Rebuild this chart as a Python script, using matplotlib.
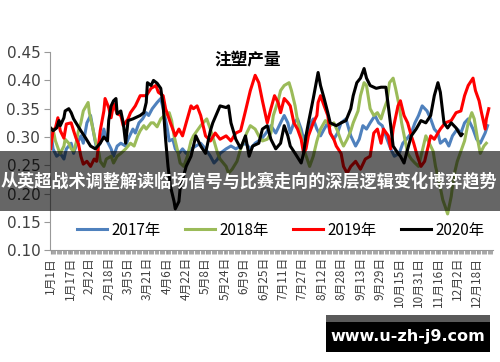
import matplotlib
matplotlib.use("Agg")
import matplotlib.pyplot as plt
from matplotlib.patches import Rectangle
import numpy as np

plt.rcParams['font.family'] = ['Noto Sans CJK SC', 'DejaVu Sans']

title = "注塑产量"
banner = "从英超战术调整解读临场信号与比赛走向的深层逻辑变化博弈趋势"
watermark = "www.u-zh-j9.com"

tick_days = list(range(0, 353, 16))
tick_labels = ["1月1日", "1月17日", "2月2日", "2月18日", "3月5日", "3月21日", "4月6日",
               "4月22日", "5月8日", "5月24日", "6月9日", "6月25日", "7月11日", "7月27日",
               "8月12日", "8月28日", "9月13日", "9月29日", "10月15日", "10月31日",
               "11月16日", "12月2日", "12月18日"]
y_ticks = [0.10, 0.15, 0.20, 0.25, 0.30, 0.35, 0.40, 0.45]

series_names = ["2017年", "2018年", "2019年", "2020年"]

day_2017 = [0, 2, 5, 8, 11, 13, 17, 19, 21, 25, 27, 30, 33, 36, 38, 41, 44, 46, 50, 52, 55, 58,
            62, 64, 68, 70, 73, 76, 79, 81, 84, 88, 91, 93, 96, 98, 101, 103, 106, 109, 112,
            116, 120, 124, 128, 132, 135, 138, 140, 145, 149, 153, 157, 161, 165, 169, 174,
            178, 182, 186, 190, 193, 196, 198, 201, 204, 207, 209, 212, 215, 217, 220, 223,
            226, 229, 231, 234, 237, 240, 244, 248, 252, 255, 258, 261, 264, 268, 271, 274,
            278, 281, 284, 288, 291, 294, 298, 301, 304, 307, 311, 314, 317, 320, 322, 326,
            329, 332, 336, 339, 342, 345, 349, 352, 355, 359, 361]
val_2017 = [0.314, 0.279, 0.266, 0.271, 0.261, 0.279, 0.289, 0.271, 0.284, 0.302, 0.289, 0.325,
            0.338, 0.302, 0.279, 0.289, 0.314, 0.296, 0.279, 0.266, 0.284, 0.289, 0.284, 0.296,
            0.314, 0.307, 0.325, 0.332, 0.343, 0.338, 0.350, 0.361, 0.368, 0.350, 0.320, 0.293,
            0.296, 0.279, 0.271, 0.279, 0.271, 0.279, 0.284, 0.289, 0.279, 0.266, 0.254, 0.261,
            0.271, 0.279, 0.284, 0.279, 0.284, 0.289, 0.279, 0.289, 0.296, 0.307, 0.320, 0.307,
            0.325, 0.338, 0.325, 0.307, 0.325, 0.332, 0.314, 0.296, 0.307, 0.325, 0.332, 0.314,
            0.302, 0.314, 0.325, 0.307, 0.296, 0.307, 0.325, 0.332, 0.302, 0.284, 0.296, 0.320,
            0.314, 0.325, 0.338, 0.325, 0.320, 0.296, 0.279, 0.266, 0.271, 0.289, 0.296, 0.307,
            0.325, 0.338, 0.355, 0.346, 0.332, 0.314, 0.307, 0.289, 0.296, 0.284, 0.302, 0.314,
            0.307, 0.325, 0.332, 0.314, 0.296, 0.289, 0.307, 0.320]

day_2018 = [0, 2, 4, 7, 8, 11, 12, 15, 17, 19, 21, 23, 25, 27, 31, 32, 35, 37, 40, 41, 44, 46,
            50, 52, 55, 58, 62, 66, 69, 72, 74, 77, 79, 83, 85, 88, 91, 94, 98, 100, 102, 105,
            107, 110, 113, 116, 118, 121, 124, 126, 129, 132, 135, 138, 140, 145, 147, 150,
            154, 157, 160, 162, 165, 169, 172, 175, 179, 182, 184, 188, 190, 193, 197, 199,
            202, 204, 207, 209, 212, 214, 217, 220, 223, 227, 231, 234, 237, 240, 242, 245,
            248, 250, 254, 256, 259, 261, 264, 267, 270, 273, 275, 278, 280, 283, 285, 288,
            290, 293, 295, 298, 301, 304, 307, 310, 312, 316, 318, 321, 324, 326, 328, 331,
            333, 336, 339, 342, 345, 348, 350, 353, 355, 358, 360]
val_2018 = [0.311, 0.314, 0.293, 0.275, 0.271, 0.284, 0.296, 0.289, 0.279, 0.275, 0.289, 0.311,
            0.325, 0.346, 0.361, 0.343, 0.314, 0.293, 0.271, 0.257, 0.248, 0.261, 0.266, 0.254,
            0.266, 0.271, 0.279, 0.289, 0.284, 0.302, 0.311, 0.320, 0.314, 0.325, 0.325, 0.318,
            0.332, 0.338, 0.343, 0.329, 0.302, 0.275, 0.254, 0.248, 0.266, 0.293, 0.302, 0.311,
            0.320, 0.325, 0.332, 0.314, 0.293, 0.271, 0.261, 0.248, 0.236, 0.243, 0.257, 0.279,
            0.296, 0.307, 0.320, 0.314, 0.302, 0.293, 0.296, 0.307, 0.338, 0.364, 0.382, 0.391,
            0.396, 0.382, 0.355, 0.329, 0.302, 0.279, 0.261, 0.248, 0.266, 0.293, 0.314, 0.329,
            0.320, 0.325, 0.311, 0.293, 0.284, 0.296, 0.311, 0.325, 0.346, 0.373, 0.396, 0.391,
            0.350, 0.338, 0.343, 0.332, 0.346, 0.364, 0.396, 0.404, 0.386, 0.355, 0.325, 0.293,
            0.271, 0.261, 0.254, 0.248, 0.275, 0.302, 0.293, 0.275, 0.248, 0.221, 0.189, 0.177,
            0.164, 0.195, 0.230, 0.257, 0.275, 0.293, 0.325, 0.343, 0.332, 0.293, 0.271, 0.284,
            0.289]

day_2019 = [0, 2, 4, 6, 8, 11, 13, 17, 19, 21, 23, 25, 27, 30, 33, 36, 38, 40, 41, 44, 45, 48,
            50, 52, 55, 58, 60, 64, 66, 70, 74, 79, 83, 87, 89, 93, 95, 99, 103, 106, 109, 112,
            116, 118, 121, 124, 128, 132, 136, 140, 145, 149, 153, 157, 161, 165, 169, 172,
            175, 179, 182, 185, 188, 190, 193, 196, 198, 201, 204, 207, 209, 211, 213, 217,
            220, 221, 223, 226, 229, 231, 234, 236, 240, 242, 245, 248, 252, 256, 260, 264,
            267, 270, 273, 275, 279, 281, 283, 287, 289, 292, 295, 298, 300, 303, 306, 309,
            312, 314, 317, 320, 322, 326, 331, 335, 339, 342, 345, 349, 351, 354, 356, 359,
            360, 362]
val_2019 = [0.279, 0.311, 0.316, 0.334, 0.311, 0.298, 0.323, 0.325, 0.311, 0.298, 0.288, 0.266,
            0.252, 0.257, 0.248, 0.261, 0.257, 0.293, 0.311, 0.346, 0.368, 0.352, 0.334, 0.359,
            0.341, 0.338, 0.320, 0.332, 0.343, 0.355, 0.373, 0.373, 0.386, 0.391, 0.379, 0.373,
            0.350, 0.325, 0.302, 0.314, 0.302, 0.325, 0.355, 0.350, 0.355, 0.338, 0.302, 0.293,
            0.307, 0.296, 0.302, 0.293, 0.307, 0.311, 0.346, 0.382, 0.409, 0.396, 0.364, 0.325,
            0.350, 0.373, 0.361, 0.343, 0.368, 0.361, 0.355, 0.325, 0.314, 0.296, 0.271, 0.279,
            0.302, 0.325, 0.338, 0.361, 0.373, 0.355, 0.338, 0.307, 0.296, 0.284, 0.271, 0.248,
            0.236, 0.248, 0.257, 0.243, 0.261, 0.266, 0.307, 0.314, 0.289, 0.314, 0.302, 0.279,
            0.314, 0.355, 0.364, 0.338, 0.325, 0.302, 0.289, 0.266, 0.248, 0.257, 0.284, 0.302,
            0.296, 0.307, 0.314, 0.325, 0.329, 0.343, 0.346, 0.373, 0.391, 0.404, 0.382, 0.364,
            0.343, 0.314, 0.332, 0.350]

day_2020 = [0, 2, 5, 7, 8, 11, 12, 15, 17, 19, 21, 25, 29, 33, 37, 41, 44, 47, 48, 50, 52, 54,
            55, 58, 60, 62, 64, 68, 70, 74, 77, 79, 80, 83, 85, 88, 91, 93, 95, 97, 99, 102,
            103, 106, 107, 112, 116, 120, 124, 128, 132, 134, 139, 140, 145, 147, 149, 153,
            157, 161, 164, 167, 172, 175, 179, 182, 186, 190, 193, 196, 198, 202, 207, 209,
            211, 213, 217, 221, 223, 226, 229, 231, 236, 240, 244, 248, 250, 253, 256, 259,
            261, 264, 269, 273, 277, 279, 281, 283, 287, 289, 292, 294, 298, 302, 306, 310,
            314, 317, 320, 322, 325, 328, 331, 335, 339, 340]
val_2020 = [0.316, 0.311, 0.316, 0.329, 0.320, 0.334, 0.346, 0.350, 0.343, 0.332, 0.325, 0.311,
            0.298, 0.284, 0.279, 0.289, 0.300, 0.293, 0.329, 0.355, 0.364, 0.368, 0.341, 0.346,
            0.325, 0.289, 0.329, 0.332, 0.334, 0.338, 0.343, 0.361, 0.396, 0.391, 0.400, 0.395,
            0.386, 0.355, 0.296, 0.248, 0.213, 0.186, 0.173, 0.186, 0.209, 0.248, 0.266, 0.302,
            0.284, 0.271, 0.311, 0.325, 0.350, 0.355, 0.352, 0.355, 0.325, 0.296, 0.280, 0.302,
            0.266, 0.284, 0.289, 0.314, 0.320, 0.296, 0.279, 0.289, 0.320, 0.302, 0.284, 0.271,
            0.254, 0.271, 0.302, 0.325, 0.368, 0.414, 0.391, 0.368, 0.343, 0.325, 0.320, 0.325,
            0.329, 0.350, 0.373, 0.396, 0.404, 0.421, 0.404, 0.391, 0.386, 0.388, 0.388, 0.355,
            0.320, 0.284, 0.271, 0.266, 0.254, 0.271, 0.302, 0.314, 0.329, 0.325, 0.338, 0.373,
            0.396, 0.379, 0.325, 0.316, 0.325, 0.316, 0.302, 0.305]

fig = plt.figure(figsize=(5.0, 3.62), dpi=100)
ax = fig.add_axes([0.100, 0.309, 0.886, 0.547])

colors = ["#4F81BD", "#9BBB59", "#FF0000", "#000000"]
all_days = [day_2017, day_2018, day_2019, day_2020]
all_vals = [val_2017, val_2018, val_2019, val_2020]
for d, v, c, n in zip(all_days, all_vals, colors, series_names):
    ax.plot(d, v, color=c, lw=2.2, label=n, solid_joinstyle='round')

ax.set_xlim(-0.5, 365.5)
ax.set_ylim(0.10, 0.45)
ax.set_yticks(y_ticks)
ax.set_yticklabels([f"{t:.2f}" for t in y_ticks], fontsize=11, color="#404040",
                   family='DejaVu Sans')
ax.set_xticks(tick_days)
ax.set_xticklabels(tick_labels, rotation=90, fontsize=8.5, color="#404040")
ax.set_xticks(np.arange(0, 366), minor=True)
ax.tick_params(axis='x', which='major', length=3, color="#999999", pad=2)
ax.tick_params(axis='x', which='minor', length=3, color="#999999", width=0.6)
ax.tick_params(axis='y', length=4, color="#999999", pad=3)
for s in ['top', 'right']:
    ax.spines[s].set_visible(False)
for s in ['left', 'bottom']:
    ax.spines[s].set_color("#999999")

ax.text(0.447, 0.96, title, transform=ax.transAxes, ha='center', va='center',
        fontsize=12, fontweight='bold')

ax.legend(loc='center', bbox_to_anchor=(0.52, 0.10), ncol=4, frameon=False,
          fontsize=11, handlelength=2.0, columnspacing=1.6, handletextpad=0.25)

fig.patches.append(Rectangle((0, 1 - 211 / 362), 1, 60 / 362, transform=fig.transFigure,
                             facecolor='black', alpha=0.6, edgecolor='none', zorder=10))
fig.text(0.498, 1 - 181 / 362, banner, ha='center', va='center', color='white',
         fontsize=12.3, fontweight='bold', zorder=11)

fig.patches.append(Rectangle((326 / 500, 1 - 323 / 362), 164 / 500, 8 / 362,
                             transform=fig.transFigure, facecolor='#5a5a5a',
                             edgecolor='none', zorder=10))
fig.patches.append(Rectangle((326 / 500, 1 - 352 / 362), 164 / 500, 30 / 362,
                             transform=fig.transFigure, facecolor='black',
                             edgecolor='none', zorder=10))
fig.text(408 / 500, 1 - 337 / 362, watermark, ha='center', va='center', color='white',
         fontsize=11.5, fontweight='bold', family='DejaVu Sans', zorder=11)

fig.savefig("out.png", dpi=100)
